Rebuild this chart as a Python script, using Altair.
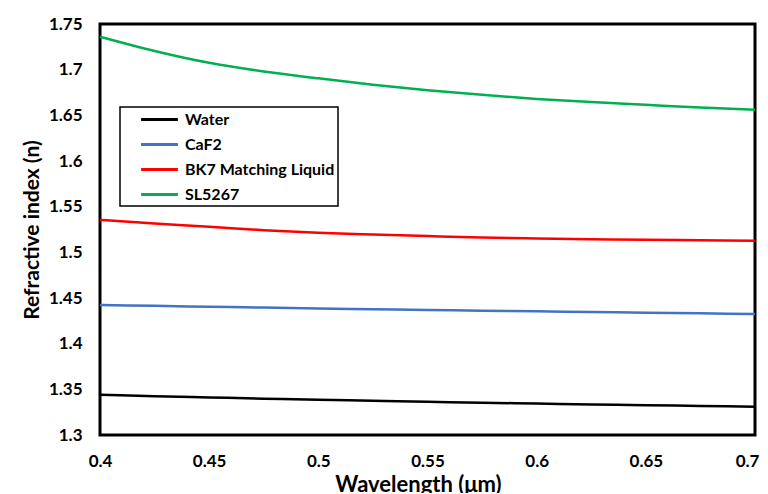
import altair as alt
import pandas as pd

wavelength = [0.400, 0.425, 0.450, 0.475, 0.500, 0.525, 0.550, 0.575, 0.600, 0.625, 0.650, 0.675, 0.700]
water = [1.3440, 1.3425, 1.3411, 1.3398, 1.3386, 1.3375, 1.3364, 1.3354, 1.3344, 1.3335, 1.3326, 1.3318, 1.3310]
caf2 = [1.4424, 1.4414, 1.4404, 1.4395, 1.4386, 1.4377, 1.4369, 1.4361, 1.4354, 1.4346, 1.4339, 1.4332, 1.4325]
bk7 = [1.5355, 1.5316, 1.5281, 1.5243, 1.5215, 1.5195, 1.5178, 1.5163, 1.5152, 1.5144, 1.5137, 1.5132, 1.5128]
sl5267 = [1.7360, 1.7205, 1.7075, 1.6980, 1.6905, 1.6835, 1.6775, 1.6725, 1.6680, 1.6645, 1.6615, 1.6585, 1.6560]

series = ["Water", "CaF2", "BK7 Matching Liquid", "SL5267"]
colors = ["#000000", "#4472C4", "#FF0000", "#00B050"]

x_ticks = [0.4, 0.45, 0.5, 0.55, 0.6, 0.65, 0.7]
y_ticks = [1.3, 1.35, 1.4, 1.45, 1.5, 1.55, 1.6, 1.65, 1.7, 1.75]

rows = []
for name, vals in zip(series, [water, caf2, bk7, sl5267]):
    for w, v in zip(wavelength, vals):
        rows.append({"Wavelength": w, "n": v, "Series": name})
df = pd.DataFrame(rows)

FONT = "Lato"

chart = alt.Chart(df).mark_line(strokeWidth=2.5, interpolate="monotone").encode(
    x=alt.X("Wavelength:Q",
            scale=alt.Scale(domain=[0.4, 0.7], nice=False, zero=False),
            axis=alt.Axis(title="Wavelength (μm)", values=x_ticks, labelFlush=False,
                          format=".2~f", labelPadding=18, titlePadding=5,
                          labelOffset={"condition": {"test": "datum.value >= 0.69", "value": -8},
                                       "value": 0},
                          titleX=318, titleAlign="center")),
    y=alt.Y("n:Q",
            scale=alt.Scale(domain=[1.3, 1.75], nice=False, zero=False),
            axis=alt.Axis(title="Refractive index (n)", values=y_ticks, labelFlush=False,
                          format=".2~f", labelPadding=18, titlePadding=6,
                          titleFontSize=21)),
    color=alt.Color("Series:N", sort=series,
                    scale=alt.Scale(domain=series, range=colors),
                    legend=alt.Legend(title=None, orient="none", legendX=20, legendY=83,
                                      symbolType="M-2.3,0H2.3", symbolSize=256, symbolStrokeWidth=3,
                                      symbolOffset=27,
                                      labelFont=FONT, labelFontSize=16, labelFontWeight="bold",
                                      labelColor="black", labelOffset=16, labelLimit=300,
                                      strokeColor="black", fillColor="white", padding=3,
                                      rowPadding=7)),
).properties(
    width=655, height=411,
    autosize=alt.AutoSizeParams(type="none"),
    padding={"left": 92, "top": 16, "right": 5, "bottom": 58},
).configure_view(
    stroke="black", strokeWidth=3
).configure_axis(
    grid=False, domain=False, ticks=False,
    labelFont=FONT, labelFontSize=17, labelFontWeight="bold", labelColor="black",
    titleFont=FONT, titleFontSize=22, titleFontWeight="bold", titleColor="black",
).configure_legend(
    strokeWidth=1.5
)

chart.save("out.html", embed_options={"renderer": "svg", "actions": False})
